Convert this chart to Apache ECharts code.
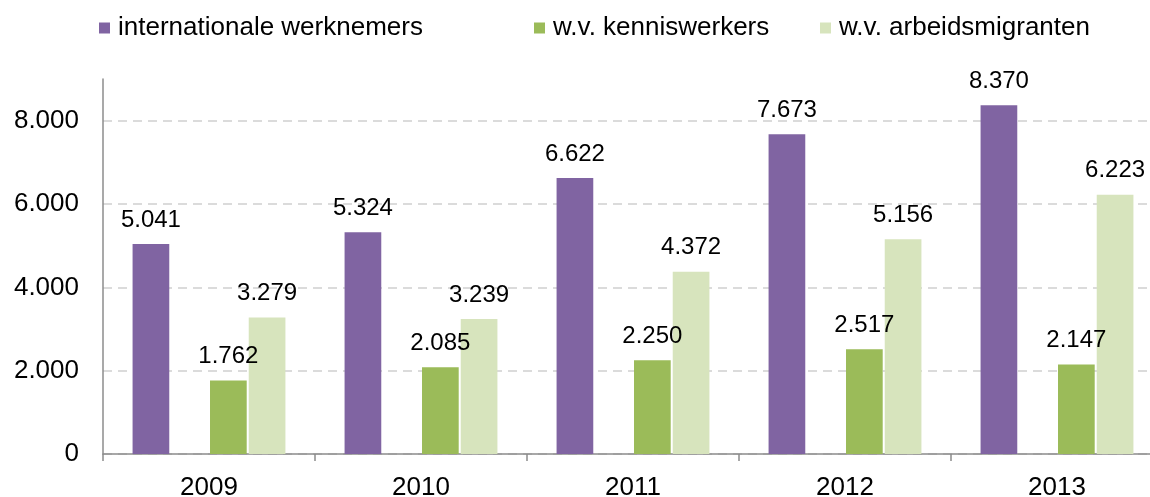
<!DOCTYPE html>
<html>
<head>
<meta charset="utf-8">
<style>
  html, body { margin: 0; padding: 0; background: #fff; }
  #chart { width: 1150px; height: 497px; }
</style>
<script src="https://cdn.jsdelivr.net/npm/echarts@6/dist/echarts.min.js"></script>
</head>
<body>
<div id="chart"></div>
<script>
// data
const years = ['2009', '2010', '2011', '2012', '2013'];
const internationaal = [5041, 5324, 6622, 7673, 8370];
const kenniswerkers = [1762, 2085, 2250, 2517, 2147];
const arbeidsmigranten = [3279, 3239, 4372, 5156, 6223];
const yTicks = [0, 2000, 4000, 6000, 8000];

const FONT = 'Liberation Sans, Arial, sans-serif';

// 1234 -> "1.234"
const nl = (v) => {
    if (v < 1000) return String(v);
    return `${Math.floor(v / 1000)}.${String(v % 1000).padStart(3, '0')}`;
};

const label = {
    show: true,
    position: 'top',
    distance: 12,
    color: '#000',
    fontFamily: FONT,
    fontSize: 24,
    formatter: p => nl(p.value),
};

const legendBase = {
    top: 10,
    icon: 'rect',
    itemWidth: 11,
    itemHeight: 11,
    itemGap: 5,
    textStyle: {
        color: '#000',
        fontFamily: FONT,
        fontSize: 26,
        lineHeight: 26,
        padding: [0, 0, 0, 3],
    },
};

const chart = echarts.init(document.getElementById('chart'), null, { renderer: 'canvas' });
chart.setOption({
    animation: false,
    legend: [
        { ...legendBase, left: 94, data: ['internationale werknemers'] },
        { ...legendBase, left: 529, data: ['w.v. kenniswerkers'] },
        { ...legendBase, left: 815, data: ['w.v. arbeidsmigranten'] },
    ],
    grid: {
        left: 103,
        width: 1060, // laatste categorie loopt buiten beeld
        top: 79,
        bottom: 43,
        containLabel: false,
        outerBoundsMode: 'none',
    },
    xAxis: {
        type: 'category',
        data: years,
        axisLine: { lineStyle: { color: '#8c8c8c', width: 1.5 } },
        axisTick: { show: true, length: 7, lineStyle: { color: '#8c8c8c', width: 1.5 } },
        axisLabel: { color: '#000', fontFamily: FONT, fontSize: 26, margin: 21 },
    },
    yAxis: {
        type: 'value',
        min: 0,
        max: 9000,
        interval: 2000,
        axisLine: { show: true, lineStyle: { color: '#8c8c8c', width: 1.5 } },
        axisTick: { show: false },
        axisLabel: {
            color: '#000',
            fontFamily: FONT,
            fontSize: 26,
            margin: 24,
            showMaxLabel: false,
            formatter: v => (yTicks.includes(v) ? nl(v) : ''),
        },
        splitLine: {
            showMaxLine: false,
            lineStyle: { color: '#d0d0d0', type: [9, 6], width: 1.5 },
        },
    },
    series: [
        {
            name: 'internationale werknemers',
            type: 'bar',
            data: internationaal,
            barWidth: 36.7,
            barGap: '5.5%',
            itemStyle: { color: '#8064A2' },
            label,
        },
        {
            // lege ruimte tussen paars en groen
            name: 'spacer',
            type: 'bar',
            data: [],
            barWidth: 36.7,
        },
        {
            name: 'w.v. kenniswerkers',
            type: 'bar',
            data: kenniswerkers,
            barWidth: 36.7,
            itemStyle: { color: '#9BBB59' },
            label,
        },
        {
            name: 'w.v. arbeidsmigranten',
            type: 'bar',
            data: arbeidsmigranten,
            barWidth: 36.7,
            itemStyle: { color: '#D7E4BD' },
            label,
        },
    ],
});
</script>
</body>
</html>
